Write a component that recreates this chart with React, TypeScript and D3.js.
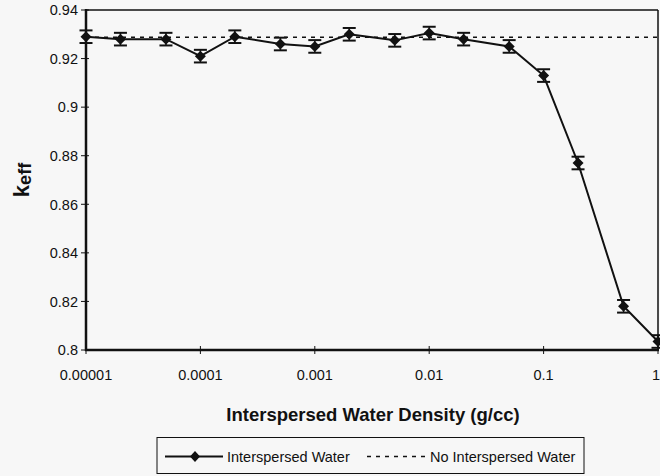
import React from "react";
import * as d3 from "d3";

const densities = [1e-5, 2e-5, 5e-5, 1e-4, 2e-4, 5e-4, 1e-3, 2e-3, 5e-3, 1e-2, 2e-2, 5e-2, 0.1, 0.2, 0.5, 1];
const keffValues = [0.929, 0.928, 0.928, 0.921, 0.929, 0.926, 0.925, 0.930, 0.9275, 0.9305, 0.928, 0.925, 0.913, 0.877, 0.818, 0.8035];
const keffErrors = [0.0026, 0.0026, 0.0026, 0.0026, 0.0026, 0.0026, 0.0026, 0.0026, 0.0026, 0.0026, 0.0026, 0.0026, 0.0026, 0.0026, 0.0026, 0.0026];
const noWaterKeff = 0.9288;
const xTicks = [1e-5, 1e-4, 1e-3, 1e-2, 1e-1, 1];
const xTickLabels = ["0.00001", "0.0001", "0.001", "0.01", "0.1", "1"];
const yTicks = [0.8, 0.82, 0.84, 0.86, 0.88, 0.9, 0.92, 0.94];
const yTickLabels = ["0.8", "0.82", "0.84", "0.86", "0.88", "0.9", "0.92", "0.94"];

const W = 660, H = 476;
const L = 86, R = 658, T = 10, B = 350;
const font = "'Liberation Sans', Arial, sans-serif";

export default function App() {
  const x = d3.scaleLog().domain([1e-5, 1]).range([L, R]);
  const y = d3.scaleLinear().domain([0.8, 0.94]).range([B, T]);
  const line = d3.line<number>().x((_, i) => x(densities[i])).y((v) => y(v));
  const diamond = (cx: number, cy: number, rx: number, ry: number) =>
    `M${cx},${cy - ry}L${cx + rx},${cy}L${cx},${cy + ry}L${cx - rx},${cy}Z`;

  return (
    <svg width={W} height={H} style={{ position: "absolute", left: 0, top: 0, background: "#f7f7f7" }}>
      <rect x={0} y={0} width={W} height={H} fill="#f7f7f7" />
      {/* frame */}
      <line x1={L} y1={T} x2={R} y2={T} stroke="#111" strokeWidth={1.5} />
      <line x1={R} y1={T} x2={R} y2={B} stroke="#111" strokeWidth={1.5} />
      <line x1={L} y1={T - 1} x2={L} y2={B + 1} stroke="#111" strokeWidth={2.5} />
      <line x1={L - 1} y1={B} x2={R + 1} y2={B} stroke="#111" strokeWidth={2.5} />
      {/* y ticks */}
      {yTicks.map((t, i) => (
        <g key={"y" + i}>
          <line x1={L - 5} x2={L + 3} y1={y(t)} y2={y(t)} stroke="#111" strokeWidth={1} />
          <text x={L - 8} y={y(t)} dy="0.36em" textAnchor="end" fontFamily={font} fontSize={14.5} fill="#111">
            {yTickLabels[i]}
          </text>
        </g>
      ))}
      {/* x ticks */}
      {xTicks.map((t, i) => {
        const last = i === xTicks.length - 1;
        return (
          <g key={"x" + i}>
            <line x1={x(t)} x2={x(t)} y1={B - 4} y2={B + 4} stroke="#111" strokeWidth={1} />
            <text x={last ? W : x(t)} y={380} textAnchor={last ? "end" : "middle"} fontFamily={font} fontSize={14.5} fill="#111">
              {xTickLabels[i]}
            </text>
          </g>
        );
      })}
      {/* no water dashed line */}
      <line x1={L} x2={R} y1={y(noWaterKeff)} y2={y(noWaterKeff)} stroke="#111" strokeWidth={1.5} strokeDasharray="4,5" />
      {/* series line */}
      <path d={line(keffValues) || ""} fill="none" stroke="#111" strokeWidth={2} />
      {/* error bars & markers */}
      {keffValues.map((v, i) => {
        const cx = x(densities[i]);
        const y1 = y(v + keffErrors[i]);
        const y2 = y(v - keffErrors[i]);
        return (
          <g key={"p" + i}>
            <line x1={cx} x2={cx} y1={y1} y2={y2} stroke="#111" strokeWidth={1.5} />
            <line x1={cx - 6.5} x2={cx + 6.5} y1={y1} y2={y1} stroke="#111" strokeWidth={2} />
            <line x1={cx - 6.5} x2={cx + 6.5} y1={y2} y2={y2} stroke="#111" strokeWidth={2} />
            <path d={diamond(cx, y(v), 5.5, 5.5)} fill="#111" />
          </g>
        );
      })}
      {/* axis titles */}
      <text x={373} y={421} textAnchor="middle" fontFamily={font} fontSize={18.5} fontWeight="bold" fill="#111">
        Interspersed Water Density (g/cc)
      </text>
      <text transform="translate(29,180) rotate(-90)" textAnchor="middle" fontFamily={font} fontSize={22} fontWeight="bold" fill="#111">
        k<tspan fontSize={18} dy={2}>eff</tspan>
      </text>
      {/* legend */}
      <rect x={157} y={437.5} width={427} height={36} fill="none" stroke="#111" strokeWidth={1} />
      <line x1={165} x2={223} y1={456.5} y2={456.5} stroke="#111" strokeWidth={2} />
      <path d={diamond(195, 456.5, 5, 5.5)} fill="#111" />
      <text x={227} y={461.5} fontFamily={font} fontSize={14.5} fill="#111">Interspersed Water</text>
      <line x1={367} x2={428} y1={456.5} y2={456.5} stroke="#111" strokeWidth={1.5} strokeDasharray="4,5" />
      <text x={430} y={461.5} fontFamily={font} fontSize={14.5} fill="#111">No Interspersed Water</text>
    </svg>
  );
}
